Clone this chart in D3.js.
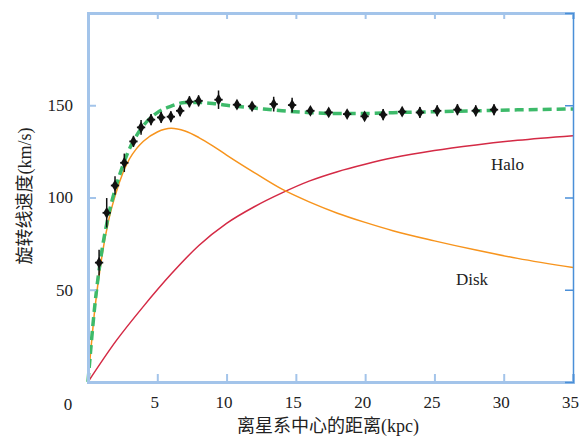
<!DOCTYPE html>
<html>
<head>
<meta charset="utf-8">
<script src="https://cdn.jsdelivr.net/npm/d3@7"></script>
<style>
  body { margin: 0; background: #fff; }
  text { font-family: "Liberation Serif", "Noto Sans CJK SC", serif; fill: #222; }
</style>
</head>
<body>
<svg id="chart" width="584" height="445"></svg>
<script>
// observed rotation speeds (kpc, km/s) and errors
var obs_r   = [0.8, 1.35, 1.95, 2.62, 3.28, 3.83, 4.55, 5.28, 5.98, 6.65, 7.32, 7.98, 9.42, 10.75, 11.84, 13.4, 14.73, 16.05, 17.37, 18.7, 19.96, 21.3, 22.67, 23.95, 25.2, 26.66, 27.98, 29.3];
var obs_v   = [64.7, 91.7, 106.5, 118.8, 130.4, 138, 142.2, 143.4, 143.8, 147, 151.9, 152.4, 153, 150.3, 149.4, 150.6, 150.1, 147, 146.1, 145.2, 144, 144.9, 146.5, 146.1, 147, 147.6, 147, 147.6];
var obs_err = [7, 8, 5, 5, 3, 4, 3, 3, 3, 3, 3, 3, 5, 2, 2, 4, 4, 2, 2, 2, 2, 3, 2, 3, 3, 3, 3, 3];

// model curves
var disk_r  = [0, 0.5, 1, 1.5, 2, 2.5, 3, 3.5, 4, 5, 6, 7, 8, 9, 10, 12, 14, 16, 18, 20, 22, 25, 28, 31, 35];
var disk_v  = [0, 40, 68, 88, 102, 113, 121, 126.5, 130.5, 135.5, 137.5, 136, 132.5, 128, 123, 113.5, 104.5, 97.5, 91.5, 86.5, 82, 76.5, 71.5, 67, 62];
var halo_r  = [0, 2, 4, 6, 8, 10, 12, 14, 16, 18, 20, 22, 25, 28, 31, 35];
var halo_v  = [0, 22, 41, 58.5, 74, 86, 95, 102.5, 109, 114, 118, 121.5, 125.5, 128.5, 131, 133.5];
var total_r = [0, 0.5, 1, 1.5, 2, 2.5, 3, 3.5, 4, 5, 6, 7, 8, 9, 10, 12, 14, 16, 18, 20, 22, 25, 28, 31, 35];
var total_v = [0, 42, 71, 91, 105.5, 117, 126.5, 133.5, 139, 146, 149.5, 151.5, 151.5, 151, 150, 148.5, 147, 146, 145.5, 145.5, 146, 146.5, 147, 147.5, 148];

var x_ticks = [5, 10, 15, 20, 25, 30, 35];
var y_ticks = [50, 100, 150];

var svg = d3.select("#chart");

var xScale = d3.scaleLinear().domain([0, 35]).range([88, 573]);
var yScale = d3.scaleLinear().domain([0, 200]).range([382, 13]);

function pairs(xs, ys){
    return xs.map(function(d, i){ return [d, ys[i]]; });
}

var line = d3.line()
    .x(function(d){ return xScale(d[0]); })
    .y(function(d){ return yScale(d[1]); })
    .curve(d3.curveMonotoneX);

// curves
svg.append("path")
    .attr("d", line(pairs(halo_r, halo_v)))
    .attr("fill", "none")
    .attr("stroke", "#d42a45")
    .attr("stroke-width", 1.5);

svg.append("path")
    .attr("d", line(pairs(disk_r, disk_v)))
    .attr("fill", "none")
    .attr("stroke", "#f7941d")
    .attr("stroke-width", 1.5);

svg.append("path")
    .attr("d", line(pairs(total_r, total_v)))
    .attr("fill", "none")
    .attr("stroke", "#3dba6a")
    .attr("stroke-width", 3.5)
    .attr("stroke-dasharray", "9,5");

// data points with error bars
var pts = svg.append("g").selectAll("g")
    .data(obs_r.map(function(d, i){ return {r: d, v: obs_v[i], e: obs_err[i]}; }))
    .enter()
    .append("g");

pts.append("line")
    .attr("x1", function(d){ return xScale(d.r); })
    .attr("x2", function(d){ return xScale(d.r); })
    .attr("y1", function(d){ return yScale(d.v - d.e); })
    .attr("y2", function(d){ return yScale(d.v + d.e); })
    .attr("stroke", "#111")
    .attr("stroke-width", 1.5);

pts.append("line")
    .attr("x1", function(d){ return xScale(d.r - 0.3); })
    .attr("x2", function(d){ return xScale(d.r + 0.3); })
    .attr("y1", function(d){ return yScale(d.v); })
    .attr("y2", function(d){ return yScale(d.v); })
    .attr("stroke", "#111")
    .attr("stroke-width", 1.8);

pts.append("path")
    .attr("d", d3.symbol().type(d3.symbolDiamond).size(40))
    .attr("transform", function(d){ return "translate(" + xScale(d.r) + "," + yScale(d.v) + ")"; })
    .attr("fill", "#111");

// frame and ticks
var axisLight = "#a3c4ea";
var axisDark = "#4a8fd8";

var gBottom = svg.append("g")
    .attr("transform", "translate(0,382)")
    .call(d3.axisBottom(xScale).tickValues(x_ticks).tickSize(-8).tickPadding(14));
var gTop = svg.append("g")
    .attr("transform", "translate(0,13)")
    .call(d3.axisTop(xScale).tickValues(x_ticks).tickSize(-6).tickFormat(""));
var gLeft = svg.append("g")
    .attr("transform", "translate(88,0)")
    .call(d3.axisLeft(yScale).tickValues(y_ticks).tickSize(-8).tickPadding(15));
var gRight = svg.append("g")
    .attr("transform", "translate(573,0)")
    .call(d3.axisRight(yScale).tickValues(y_ticks).tickSize(-8).tickFormat(""));

[gBottom, gTop, gLeft].forEach(function(g){
    g.select(".domain").attr("stroke", axisLight).attr("stroke-width", 3);
    g.selectAll(".tick line").attr("stroke", axisLight).attr("stroke-width", 2);
});
gRight.select(".domain").attr("stroke", axisDark).attr("stroke-width", 1.5);
gRight.selectAll(".tick line").attr("stroke", axisDark).attr("stroke-width", 1.5);

svg.selectAll(".tick text")
    .attr("font-family", "Liberation Serif, serif")
    .attr("font-size", 17)
    .attr("fill", "#222");
gBottom.selectAll(".tick text").attr("dx", -3);

svg.append("text")
    .attr("x", 68)
    .attr("y", 410)
    .attr("text-anchor", "middle")
    .attr("font-size", 17)
    .text("0");

// labels
svg.append("text")
    .attr("x", 328)
    .attr("y", 432)
    .attr("text-anchor", "middle")
    .attr("font-size", 18)
    .text("离星系中心的距离(kpc)");

svg.append("text")
    .attr("transform", "translate(31,196) rotate(-90)")
    .attr("text-anchor", "middle")
    .attr("font-size", 18)
    .text("旋转线速度(km/s)");

svg.append("text")
    .attr("x", 491)
    .attr("y", 170)
    .attr("font-size", 17)
    .text("Halo");

svg.append("text")
    .attr("x", 456)
    .attr("y", 285)
    .attr("font-size", 17)
    .text("Disk");
</script>
</body>
</html>
